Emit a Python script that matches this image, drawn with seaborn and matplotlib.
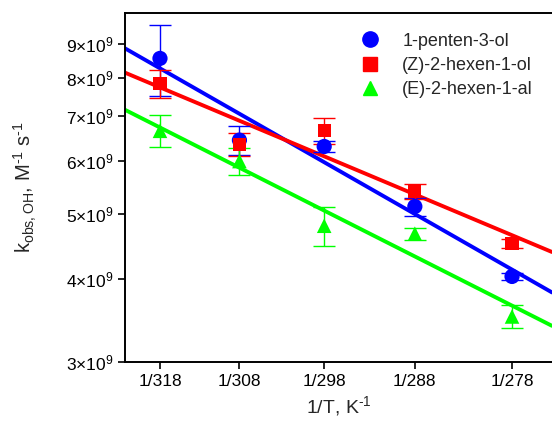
import numpy as np
import pandas as pd
import matplotlib
matplotlib.use("Agg")
import matplotlib.pyplot as plt
import seaborn as sns

# temperatures (K) -> x is 1/T
temps = [318, 308, 298, 288, 278]
tick_labels = ["1/318", "1/308", "1/298", "1/288", "1/278"]

# rate constants (M^-1 s^-1)
k_penten = [8.55e9, 6.45e9, 6.31e9, 5.13e9, 4.03e9]
err_penten = [1.05e9, 0.32e9, 0.12e9, 0.16e9, 0.05e9]
k_zhexenol = [7.84e9, 6.36e9, 6.66e9, 5.40e9, 4.51e9]
err_zhexenol = [0.37e9, 0.25e9, 0.30e9, 0.14e9, 0.07e9]
k_ehexenal = [6.66e9, 6.00e9, 4.80e9, 4.67e9, 3.51e9]
err_ehexenal = [0.37e9, 0.28e9, 0.32e9, 0.10e9, 0.14e9]

names = ["1-penten-3-ol", "(Z)-2-hexen-1-ol", "(E)-2-hexen-1-al"]
colors = ["#0000ff", "#ff0000", "#00ff00"]
markers = ["o", "s", "^"]
msizes = [120, 90, 110]

sns.set_style("ticks")
plt.rcParams['font.family'] = ['Liberation Sans', 'DejaVu Sans']
plt.rcParams['mathtext.fontset'] = 'custom'
plt.rcParams['mathtext.rm'] = 'Liberation Sans'
plt.rcParams['mathtext.it'] = 'Liberation Sans:italic'

x = 1.0 / np.array(temps)

# long table for seaborn
rows = []
for name, ks in zip(names, [k_penten, k_zhexenol, k_ehexenal]):
    for xi, ki in zip(x, ks):
        rows.append([name, xi, ki])
df = pd.DataFrame(rows, columns=["compound", "invT", "k"])

fig = plt.figure(figsize=(5.52, 4.26), dpi=100)
ax = fig.add_axes([125/552, 64/426, 1 - 125/552, (362 - 13)/426])

xmin, xmax = 0.0030997, 0.0036485
xfit = np.linspace(xmin, xmax, 50)

# Arrhenius fits (log k vs 1/T), drawn first
for name, ks, c in zip(names, [k_penten, k_zhexenol, k_ehexenal], colors):
    p = np.polyfit(x, np.log10(ks), 1)
    sns.lineplot(x=xfit, y=10 ** np.polyval(p, xfit), color=c, linewidth=2.8, ax=ax, zorder=2)

# error bars
for ks, es, c in zip([k_penten, k_zhexenol, k_ehexenal],
                     [err_penten, err_zhexenol, err_ehexenal], colors):
    ax.errorbar(x, ks, yerr=es, fmt="none", ecolor=c, elinewidth=1.0,
                capsize=8, capthick=1.0, zorder=3)

sns.scatterplot(data=df, x="invT", y="k", hue="compound", style="compound",
                palette=colors, markers=markers, size="compound", sizes=msizes,
                edgecolor="none", linewidth=0, ax=ax, zorder=4, legend=False)

ax.set_yscale("log")
ax.set_xlim(xmin, xmax)
ax.set_ylim(3e9, 1e10)
ax.set_xticks(x)
ax.set_xticklabels(tick_labels)
yt = [3e9, 4e9, 5e9, 6e9, 7e9, 8e9, 9e9]
ax.set_yticks(yt)
ax.set_yticklabels([r"%d$\times$10$^{9}$" % (v / 1e9) for v in yt])
ax.yaxis.set_minor_locator(matplotlib.ticker.NullLocator())
ax.tick_params(labelsize=12.5, length=5, width=1.2, direction="out", colors="black")
for s in ["left", "top", "bottom"]:
    ax.spines[s].set_linewidth(1.4)
    ax.spines[s].set_color("black")
ax.spines["right"].set_visible(False)

ax.set_xlabel(r"1/T, K$^{\text{-1}}$", fontsize=14)
ax.set_ylabel(r"k$_{\mathrm{obs,OH}}$, M$^{\text{-1}}$ s$^{\text{-1}}$", fontsize=14.5)
ax.xaxis.set_label_coords(0.5, -32 / 349)
ax.yaxis.set_label_coords(-(125 - 39) / 427, 0.5)

# legend with markers only
handles = [plt.Line2D([], [], linestyle="none", marker=m, color=c, markersize=ms)
           for m, c, ms in zip(markers, colors, [11, 9.5, 10.5])]
ax.legend(handles, names, loc="upper left", bbox_to_anchor=(0.51, 0.99),
          frameon=False, fontsize=13, handletextpad=1.2, labelspacing=0.4,
          handlelength=1.2)

fig.savefig("out.png", dpi=100)
